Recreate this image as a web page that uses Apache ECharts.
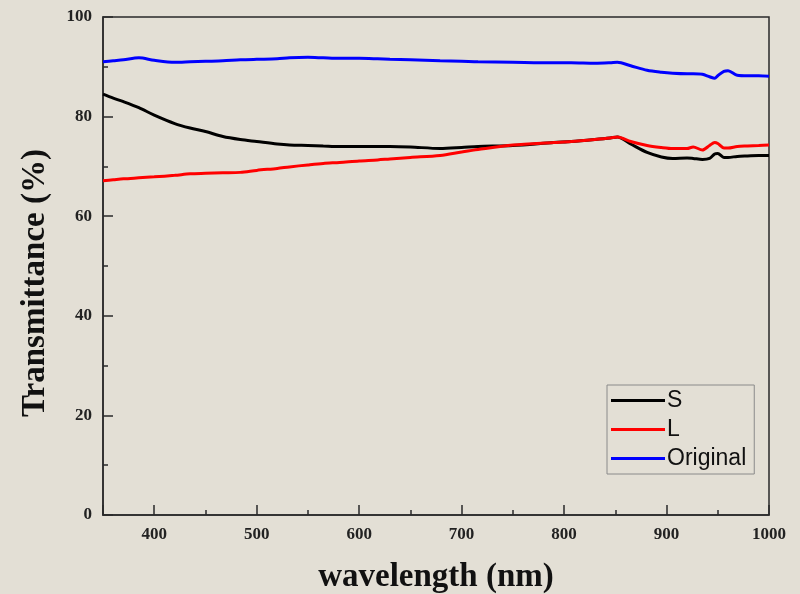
<!DOCTYPE html>
<html>
<head>
<meta charset="utf-8">
<script src="https://cdn.jsdelivr.net/npm/echarts@6/dist/echarts.min.js"></script>
<style>
  html, body { margin: 0; padding: 0; background: #e3dfd5; }
</style>
</head>
<body>
<div id="main" style="width: 800px; height: 594px"></div>
<script>
// wavelength (nm) sample points
var wavelength = [350, 360, 370, 385, 400, 420, 435, 450, 467, 484, 500, 520, 532, 550, 565, 581, 600, 618, 630, 650,
  679, 700, 716, 750, 790, 807, 830, 845, 852, 865, 881, 895, 906, 920, 926, 935, 942, 947, 950, 956, 960, 969, 979, 990, 1000];

var sValues = [84.5, 83.7, 83.0, 81.8, 80.3, 78.6, 77.7, 77.0, 76.0, 75.4, 75.0, 74.5, 74.3, 74.2, 74.1, 74.0, 74.0, 74.0, 74.0, 73.9,
  73.6, 73.8, 74.0, 74.2, 74.8, 75.0, 75.4, 75.7, 75.9, 74.5, 72.8, 71.9, 71.6, 71.7, 71.6, 71.4, 71.6, 72.5, 72.6, 71.8, 71.8, 72.0, 72.1, 72.2, 72.2];

var lValues = [67.1, 67.3, 67.5, 67.7, 67.9, 68.2, 68.5, 68.6, 68.7, 68.8, 69.2, 69.6, 69.9, 70.3, 70.6, 70.8, 71.1, 71.3, 71.5, 71.8,
  72.2, 72.9, 73.4, 74.3, 74.8, 75.0, 75.4, 75.7, 75.9, 75.0, 74.2, 73.8, 73.6, 73.6, 73.9, 73.3, 74.2, 74.8, 74.6, 73.7, 73.7, 74.0, 74.1, 74.2, 74.3];

var originalValues = [91.0, 91.2, 91.4, 91.8, 91.3, 90.9, 91.0, 91.1, 91.2, 91.4, 91.5, 91.6, 91.8, 91.9, 91.8, 91.7, 91.7, 91.6, 91.5, 91.4,
  91.2, 91.1, 91.0, 90.9, 90.8, 90.8, 90.7, 90.8, 90.9, 90.2, 89.3, 88.9, 88.7, 88.6, 88.6, 88.5, 88.0, 87.7, 88.2, 89.1, 89.2, 88.3, 88.2, 88.2, 88.1];

var seriesNames = ['S', 'L', 'Original'];
var seriesColors = ['#000000', '#ff0000', '#0000ff'];

function pairs(vals) {
  return wavelength.map(function (w, i) { return [w, vals[i]]; });
}

var chart = echarts.init(document.getElementById('main'));
var allValues = [sValues, lValues, originalValues];
var axisColor = '#2a2a2a';
var tickFont = { fontFamily: 'Liberation Serif', fontWeight: 'bold', fontSize: 17, color: '#222' };

var option = {
  backgroundColor: '#e3dfd5',
  animation: false,
  grid: {
    left: 103, right: 31, top: 17, bottom: 79,
    outerBoundsMode: 'none',
    show: true,
    borderColor: axisColor,
    borderWidth: 1.5
  },
  legend: {
    orient: 'vertical',
    left: 607,
    top: 385,
    padding: [4, 8, 4, 4],
    itemGap: 6,
    itemWidth: 54,
    itemHeight: 3,
    icon: 'rect',
    borderColor: '#8a8a8a',
    borderWidth: 1,
    textStyle: { fontFamily: 'Liberation Sans', fontSize: 23, color: '#111', padding: [0, 0, 0, -3] },
    data: seriesNames
  },
  xAxis: {
    type: 'value',
    min: 350,
    max: 1000,
    name: 'wavelength (nm)',
    nameLocation: 'middle',
    nameGap: 46,
    nameTextStyle: { fontFamily: 'Liberation Serif', fontWeight: 'bold', fontSize: 33, color: '#111' },
    axisLine: { show: true, lineStyle: { color: axisColor, width: 1.5 } },
    axisTick: { inside: true, length: 10, lineStyle: { color: axisColor, width: 1.5 } },
    minorTick: { show: true, splitNumber: 2, length: 5, lineStyle: { color: axisColor, width: 1.5 } },
    axisLabel: Object.assign({
      showMinLabel: false,
      margin: 11,
      formatter: function (v) { return v === 350 ? '' : String(v); }
    }, tickFont),
    splitLine: { show: false }
  },
  yAxis: {
    type: 'value',
    min: 0,
    max: 100,
    interval: 20,
    name: 'Transmittance (%)',
    nameLocation: 'middle',
    nameGap: 51,
    nameTextStyle: { fontFamily: 'Liberation Serif', fontWeight: 'bold', fontSize: 33, color: '#111', padding: [0, 34, 0, 0] },
    axisLine: { show: true, lineStyle: { color: axisColor, width: 1.5 } },
    axisTick: { inside: true, length: 10, lineStyle: { color: axisColor, width: 1.5 } },
    minorTick: { show: true, splitNumber: 2, length: 5, lineStyle: { color: axisColor, width: 1.5 } },
    axisLabel: Object.assign({ margin: 11 }, tickFont),
    splitLine: { show: false }
  },
  series: seriesNames.map(function (name, i) {
    return {
      name: name,
      type: 'line',
      data: pairs(allValues[i]),
      showSymbol: false,
      smooth: 0.3,
      color: seriesColors[i],
      lineStyle: { width: 3, color: seriesColors[i] }
    };
  })
};

chart.setOption(option);
</script>
</body>
</html>
